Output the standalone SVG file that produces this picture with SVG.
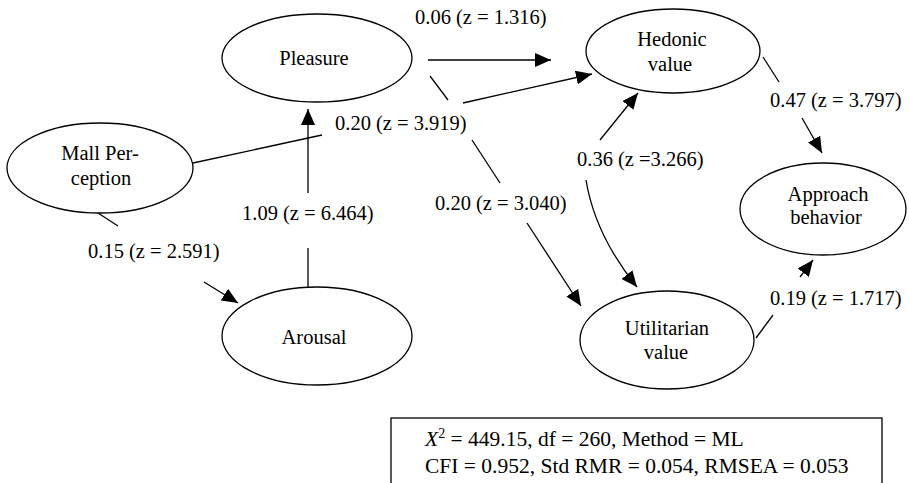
<svg xmlns="http://www.w3.org/2000/svg" width="909" height="483" viewBox="0 0 909 483" font-family="'Liberation Serif', 'Times New Roman', Times, 'DejaVu Serif', serif">
<style>
.node ellipse{fill:#fff;stroke:#000;stroke-width:1.3}
text{font-family:'Liberation Serif','Times New Roman',Times,'DejaVu Serif',serif;font-size:20.5px;fill:#000}
.nt{text-anchor:middle}
.edge{fill:none;stroke:#000;stroke-width:1.3}
.box{font-size:21.5px}
</style>
<defs>
<marker id="ah" markerUnits="userSpaceOnUse" markerWidth="16" markerHeight="14" refX="16" refY="7" orient="auto">
<path d="M0,0 L16,7 L0,14 z" fill="#000"/>
</marker>
</defs>
<g id="connectors">
<path class="edge" d="M428 60 L551 60" marker-end="url(#ah)"/>
<path class="edge" d="M193 163 L322 135"/>
<path class="edge" d="M463 103 L592 74" marker-end="url(#ah)"/>
<path class="edge" d="M430 76 L448 100"/>
<path class="edge" d="M472 140 L500 183"/>
<path class="edge" d="M527 223 L581 306" marker-end="url(#ah)"/>
<path class="edge" d="M308 288 L308 248"/>
<path class="edge" d="M308 193 L308 109" marker-end="url(#ah)"/>
<path class="edge" d="M98 213 L118 226"/>
<path class="edge" d="M204 282 L238 303" marker-end="url(#ah)"/>
<path class="edge" d="M600 140 L638 93" marker-end="url(#ah)"/>
<path class="edge" d="M586 180 Q595 235 637 287" marker-end="url(#ah)"/>
<path class="edge" d="M763 57 L779 82"/>
<path class="edge" d="M802 118 L822 153" marker-end="url(#ah)"/>
<path class="edge" d="M756 338 L773 315"/>
<path class="edge" d="M800 277 L813 260" marker-end="url(#ah)"/>
</g>
<g id="labels">
<text x="415" y="24">0.06 (z = 1.316)</text>
<text x="335" y="130">0.20 (z = 3.919)</text>
<text x="242" y="220">1.09 (z = 6.464)</text>
<text x="88" y="258">0.15 (z = 2.591)</text>
<text x="435" y="210">0.20 (z = 3.040)</text>
<text x="577" y="166">0.36 (z =3.266)</text>
<text x="770" y="107">0.47 (z = 3.797)</text>
<text x="770" y="305">0.19 (z = 1.717)</text>
</g>
<g id="pleasure" class="node">
<ellipse cx="317" cy="58" rx="95" ry="44"/>
<text class="nt" x="314" y="65">Pleasure</text>
</g>
<g id="mall-perception" class="node">
<ellipse cx="100" cy="168" rx="93" ry="45"/>
<text class="nt" x="100" y="160">Mall Per-</text>
<text class="nt" x="101" y="185">ception</text>
</g>
<g id="arousal" class="node">
<ellipse cx="317" cy="336" rx="95" ry="49"/>
<text class="nt" x="314" y="344">Arousal</text>
</g>
<g id="hedonic-value" class="node">
<ellipse cx="673" cy="51" rx="87" ry="42"/>
<text class="nt" x="672" y="46">Hedonic</text>
<text class="nt" x="670" y="71">value</text>
</g>
<g id="approach-behavior" class="node">
<ellipse cx="823" cy="209" rx="83" ry="46"/>
<text class="nt" x="828" y="201">Approach</text>
<text class="nt" x="826" y="224">behavior</text>
</g>
<g id="utilitarian-value" class="node">
<ellipse cx="667" cy="340" rx="87" ry="49"/>
<text class="nt" x="667" y="335">Utilitarian</text>
<text class="nt" x="666" y="359">value</text>
</g>
<g id="fit-box">
<rect x="391" y="418" width="491" height="80" fill="#fff" stroke="#000" stroke-width="1.3"/>
<text class="box" x="425" y="446"><tspan font-style="italic">X</tspan><tspan font-size="14" dy="-8">2</tspan><tspan dy="8"> = 449.15, df = 260, Method = ML</tspan></text>
<text class="box" x="425" y="473">CFI = 0.952, Std RMR = 0.054, RMSEA = 0.053</text>
</g>
</svg>
